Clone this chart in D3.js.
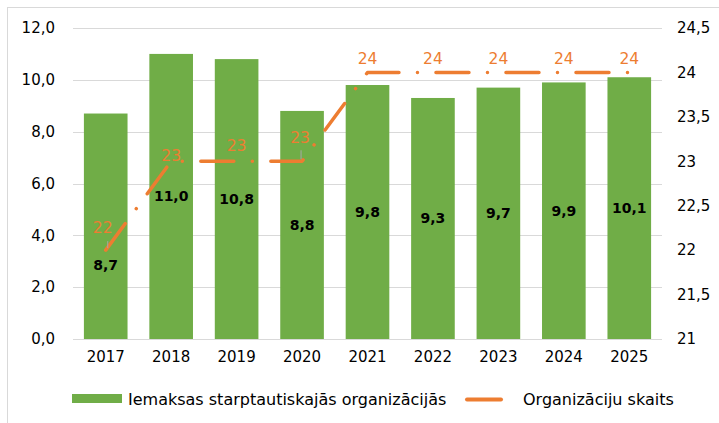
<!DOCTYPE html>
<html lang="lv">
  <head>
    <meta charset="UTF-8">
    <title>Iemaksas</title>
    <style>
body{ margin: 0; background: #fff; }
svg text{ font-family: "DejaVu Sans", sans-serif; }
    </style>
  </head>
  <body>
    <script src="https://cdn.jsdelivr.net/npm/d3@7/dist/d3.min.js"></script>
    <script>
var years = ["2017", "2018", "2019", "2020", "2021", "2022", "2023", "2024", "2025"];
var payments = [8.7, 11.0, 10.8, 8.8, 9.8, 9.3, 9.7, 9.9, 10.1];
var orgCount = [22, 23, 23, 23, 24, 24, 24, 24, 24];
var leftTicks = [0, 2, 4, 6, 8, 10, 12];
var rightTicks = [21, 21.5, 22, 22.5, 23, 23.5, 24, 24.5];
var seriesNames = ["Iemaksas starptautiskajās organizācijās", "Organizāciju skaits"];

var width = 719, height = 423;
var pLeft = 73, pRight = 662, pTop = 28, pBottom = 339;
var green = "#70ad47", orange = "#ed7d31", grid = "#d9d9d9";
var comma = function(v, d){ return v.toFixed(d).replace(".", ","); };

var svg = d3.select("body").append("svg")
    .attr("width", width)
    .attr("height", height);

// chart frame
svg.append("rect")
    .attr("x", 7.5).attr("y", 7.5)
    .attr("width", width).attr("height", height)
    .attr("fill", "none").attr("stroke", grid);

var x = d3.scaleBand().domain(years).range([pLeft, pRight])
    .paddingInner(1 / 3).paddingOuter(1 / 6);
var y = d3.scaleLinear().domain([0, 12]).range([pBottom, pTop]);
var y2 = d3.scaleLinear().domain([21, 24.5]).range([pBottom, pTop]);

// gridlines
svg.append("g").selectAll("line").data(leftTicks).enter().append("line")
    .attr("x1", pLeft).attr("x2", pRight)
    .attr("y1", function(d){ return Math.round(y(d)) + 0.5; })
    .attr("y2", function(d){ return Math.round(y(d)) + 0.5; })
    .attr("stroke", grid).attr("stroke-width", 1);

// axes
var axisL = svg.append("g")
    .attr("transform", "translate(" + (pLeft - 18) + ",0)")
    .call(d3.axisLeft(y).tickValues(leftTicks).tickSize(0).tickPadding(0)
        .tickFormat(function(d){ return comma(d, 1); }));
var axisR = svg.append("g")
    .attr("transform", "translate(" + (pRight + 15) + ",0)")
    .call(d3.axisRight(y2).tickValues(rightTicks).tickSize(0).tickPadding(0)
        .tickFormat(function(d){ return comma(d, d % 1 ? 1 : 0); }));
var axisB = svg.append("g")
    .attr("transform", "translate(0," + (pBottom + 12) + ")")
    .call(d3.axisBottom(x).tickSize(0).tickPadding(0));
[axisL, axisR, axisB].forEach(function(a){
    a.select(".domain").remove();
    a.selectAll("text").attr("font-size", 15).attr("fill", "#000")
        .attr("font-family", "DejaVu Sans, sans-serif");
});

// bars
svg.append("g").selectAll("rect").data(payments).enter().append("rect")
    .attr("x", function(d, i){ return x(years[i]); })
    .attr("width", x.bandwidth())
    .attr("y", function(d){ return y(d); })
    .attr("height", function(d){ return pBottom - y(d); })
    .attr("fill", green);

// bar labels (first one was pulled down in the original)
svg.append("g").selectAll("text").data(payments).enter().append("text")
    .attr("x", function(d, i){ return x(years[i]) + x.bandwidth() / 2; })
    .attr("y", function(d, i){ return y(d / 2) + (i == 0 ? 39 : 0); })
    .attr("dy", "0.35em")
    .attr("text-anchor", "middle")
    .attr("font-size", 14).attr("font-weight", "bold")
    .text(function(d){ return comma(d, 1); });

// line
var cx = function(i){ return x(years[i]) + x.bandwidth() / 2; };
var line = d3.line()
    .x(function(d, i){ return cx(i); })
    .y(function(d){ return y2(d); });
svg.append("path")
    .datum(orgCount)
    .attr("d", line)
    .attr("fill", "none")
    .attr("stroke", orange)
    .attr("stroke-width", 3.5)
    .attr("stroke-linecap", "round")
    .attr("stroke-linejoin", "round")
    .attr("stroke-dasharray", "33,18.5,0.01,18.5");

// leader lines
[[0, 2, 9], [3, -1, 11]].forEach(function(l){
    var i = l[0];
    svg.append("line")
        .attr("x1", cx(i) + l[1]).attr("x2", cx(i) + l[1])
        .attr("y1", y2(orgCount[i]) - l[2]).attr("y2", y2(orgCount[i]) - 2)
        .attr("stroke", "#a6a6a6").attr("stroke-width", 1);
});

// line labels
var nudge = [[-3, -23], [0, -6], [0, -16], [-2, -24], [0, -14], [0, -14], [0, -14], [0, -14], [0, -14]];
svg.append("g").selectAll("text").data(orgCount).enter().append("text")
    .attr("x", function(d, i){ return cx(i) + nudge[i][0]; })
    .attr("y", function(d, i){ return y2(d) + nudge[i][1]; })
    .attr("dy", "0.35em")
    .attr("text-anchor", "middle")
    .attr("font-size", 15.5)
    .attr("fill", orange)
    .text(function(d){ return d; });

// legend
var lg = svg.append("g").attr("font-size", 16);
lg.append("rect").attr("x", 72).attr("y", 394).attr("width", 50).attr("height", 9).attr("fill", green);
lg.append("text").attr("x", 128).attr("y", 399).attr("dy", "0.35em").text(seriesNames[0]);
lg.append("line").attr("x1", 467).attr("x2", 501).attr("y1", 399.5).attr("y2", 399.5)
    .attr("stroke", orange).attr("stroke-width", 4).attr("stroke-linecap", "round");
lg.append("text").attr("x", 523).attr("y", 399).attr("dy", "0.35em").text(seriesNames[1]);
    </script>
  </body>
</html>
